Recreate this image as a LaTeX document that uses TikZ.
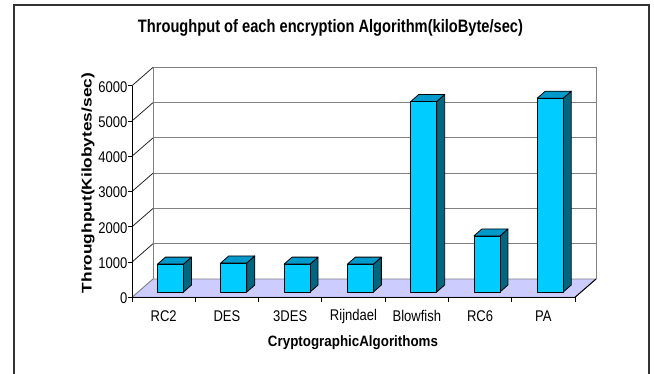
\documentclass[tikz,border=0pt]{standalone}
\usepackage{fontspec}
\setmainfont{Liberation Sans}
\definecolor{barfront}{HTML}{00CCFF}
\definecolor{bartop}{HTML}{0099CC}
\definecolor{barside}{HTML}{006680}
\definecolor{floorcol}{HTML}{CCCCFF}
\definecolor{gridcol}{HTML}{808080}
\newcommand{\narrowtxt}[1]{\scalebox{0.84}[1]{#1}}
\tikzset{
  gridline/.style={draw=gridcol, line width=0.9pt},
  sideline/.style={draw=black!85, line width=0.8pt},
  axisline/.style={draw=black, line width=0.9pt},
  barface/.style={draw=black, line width=0.8pt, line join=round},
  ticklabel/.style={font=\fontsize{15.5}{15.5}\selectfont, inner sep=0pt},
  catlabel/.style={font=\fontsize{15.5}{15.5}\selectfont, inner sep=0pt},
  boldlabel/.style={font=\bfseries, inner sep=0pt},
}
\begin{document}
\begin{tikzpicture}[x=1pt,y=-1pt]
\useasboundingbox (0,0) rectangle (654,373);
\fill[white] (0,0) rectangle (654,373);
% outer frame
\draw[line width=1.3pt, black!80] (14,380) -- (14,5) -- (649,5) -- (649,380);
% constants
\def\xf{132}\def\yf{297.3}\def\xb{153}\def\yb{279}\def\xr{575}\def\xbr{596}\def\s{35.27}
% back wall
\draw[gridline] (\xb,\yb) -- (\xb,67.3);
\draw[gridline] (\xbr,\yb) -- (\xbr,67.3);
\foreach \k in {1,...,6}{
  \draw[gridline] (\xb,{\yb-\s*\k}) -- (\xbr,{\yb-\s*\k});
  \draw[sideline] (\xf,{\yf-\s*\k}) -- (\xb,{\yb-\s*\k});
}
% floor
\filldraw[fill=floorcol, draw=gridcol, line width=0.9pt] (\xf,\yf) -- (\xr,\yf) -- (\xbr,\yb) -- (\xb,\yb) -- cycle;
\draw[axisline] (\xr,\yf) -- (\xbr,\yb);
% y axis
\draw[axisline] (\xf,85.7) -- (\xf,\yf);
\foreach \k [count=\n from 0] in {0,1000,2000,3000,4000,5000,6000}{
  \draw[axisline] (128,{\yf-\s*\n}) -- (\xf,{\yf-\s*\n});
  \node[ticklabel, anchor=east] (t\n) at (127.5,{\yf-\s*\n+1}) {\narrowtxt{\k}};
}
% x axis
\draw[axisline] (\xf,\yf) -- (\xr,\yf);
\foreach \i in {0,...,7}{
  \draw[axisline] ({\xf+63.29*\i},\yf) -- ({\xf+63.29*\i},302);
}
% bars
\foreach \v/\name [count=\i from 0] in {790/RC2,825/DES,790/3DES,790/Rijndael,5400/Blowfish,1590/RC6,5495/PA}{
  \pgfmathsetmacro{\xl}{157.5+63.29*\i}
  \pgfmathsetmacro{\xrr}{\xl+26}
  \pgfmathsetmacro{\yt}{292-\v/1000*\s}
  \filldraw[barface, fill=barside] (\xrr,292) -- (\xrr+8,285) -- (\xrr+8,\yt-7) -- (\xrr,\yt) -- cycle;
  \filldraw[barface, fill=bartop] (\xl,\yt) -- (\xl+8,\yt-7) -- (\xrr+8,\yt-7) -- (\xrr,\yt) -- cycle;
  \filldraw[barface, fill=barfront] (\xl,292) rectangle (\xrr,\yt);
  \node[catlabel] (c\i) at ({\xf+63.29*(\i+0.5)},316) {\narrowtxt{\name}};
}
% titles
\node[boldlabel] (title) at (330.5,28) {\resizebox{385pt}{\height}{\fontsize{18}{18}\selectfont Throughput of each encryption Algorithm(kiloByte/sec)}};
\node[boldlabel, rotate=90] (ylab) at (88,183) {\resizebox{220pt}{\height}{\fontsize{14}{14}\selectfont Throughput(Kilobytes/sec)}};
\node[boldlabel] (xlab) at (353,343) {\resizebox{170pt}{\height}{\fontsize{15}{15}\selectfont CryptographicAlgorithoms}};
\end{tikzpicture}
\end{document}
